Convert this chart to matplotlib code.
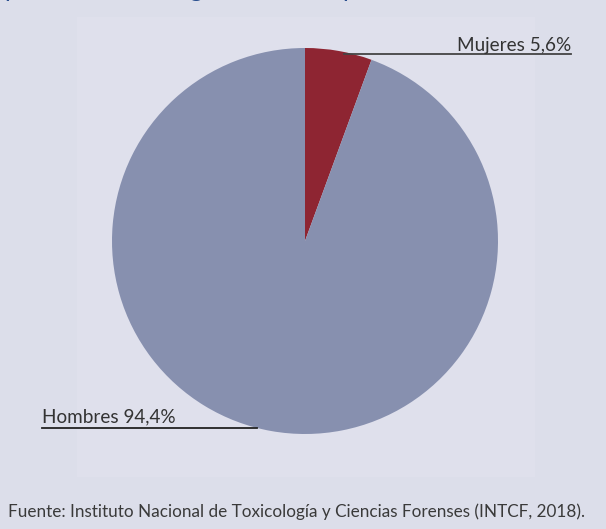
import matplotlib.pyplot as plt
from matplotlib.patches import Rectangle

# Reparto por sexo
labels = ["Mujeres", "Hombres"]
shares = [5.6, 94.4]
colors = ["#8e2532", "#8790af"]
source = "Fuente: Instituto Nacional de Toxicología y Ciencias Forenses (INTCF, 2018)."

W, H = 606, 529
fig = plt.figure(figsize=(W / 100, H / 100), dpi=100)
fig.patch.set_facecolor("#dcdeea")
ax = fig.add_axes([0, 0, 1, 1])

def py(y):
    # pixel row (from top) -> data y
    return H - y

# panel behind the chart
ax.add_patch(Rectangle((77, py(477)), 535 - 77, 477 - 17,
                       facecolor="#dfe0ec", edgecolor="none", zorder=0))

ax.pie(shares, colors=colors, startangle=90, counterclock=False,
       center=(305, py(241)), radius=193, frame=True,
       wedgeprops=dict(linewidth=0, zorder=1))
ax.set_xlim(0, W)
ax.set_ylim(0, H)
ax.set_aspect("equal")
ax.axis("off")

font = "Lato"
txt = "#333333"

def fmt(v):
    return f"{v:.1f}".replace(".", ",") + "%"

# leader lines with labels
ax.plot([344, 571], [py(54), py(54)], color="#444444", lw=1.3, zorder=3)
ax.text(571, py(51), f"{labels[0]} {fmt(shares[0])}", ha="right", va="baseline",
        fontsize=13.6, family=font, color=txt, zorder=3)
ax.plot([42, 257], [py(428), py(428)], color="#222222", lw=1.3, zorder=3)
ax.text(42, py(422), f"{labels[1]} {fmt(shares[1])}", ha="left", va="baseline",
        fontsize=13.6, family=font, color=txt, zorder=3)

ax.text(8, py(517), source, ha="left", va="baseline",
        fontsize=12.3, family=font, color="#3a3a3a")

# heading line running off the top edge
for x, ch in [(4, "p"), (189, "g"), (342, "p")]:
    ax.text(x, py(-3), ch, ha="left", va="baseline", fontsize=18,
            family=font, color="#2a4f8f")

fig.savefig("out.png", dpi=100, facecolor=fig.get_facecolor())
